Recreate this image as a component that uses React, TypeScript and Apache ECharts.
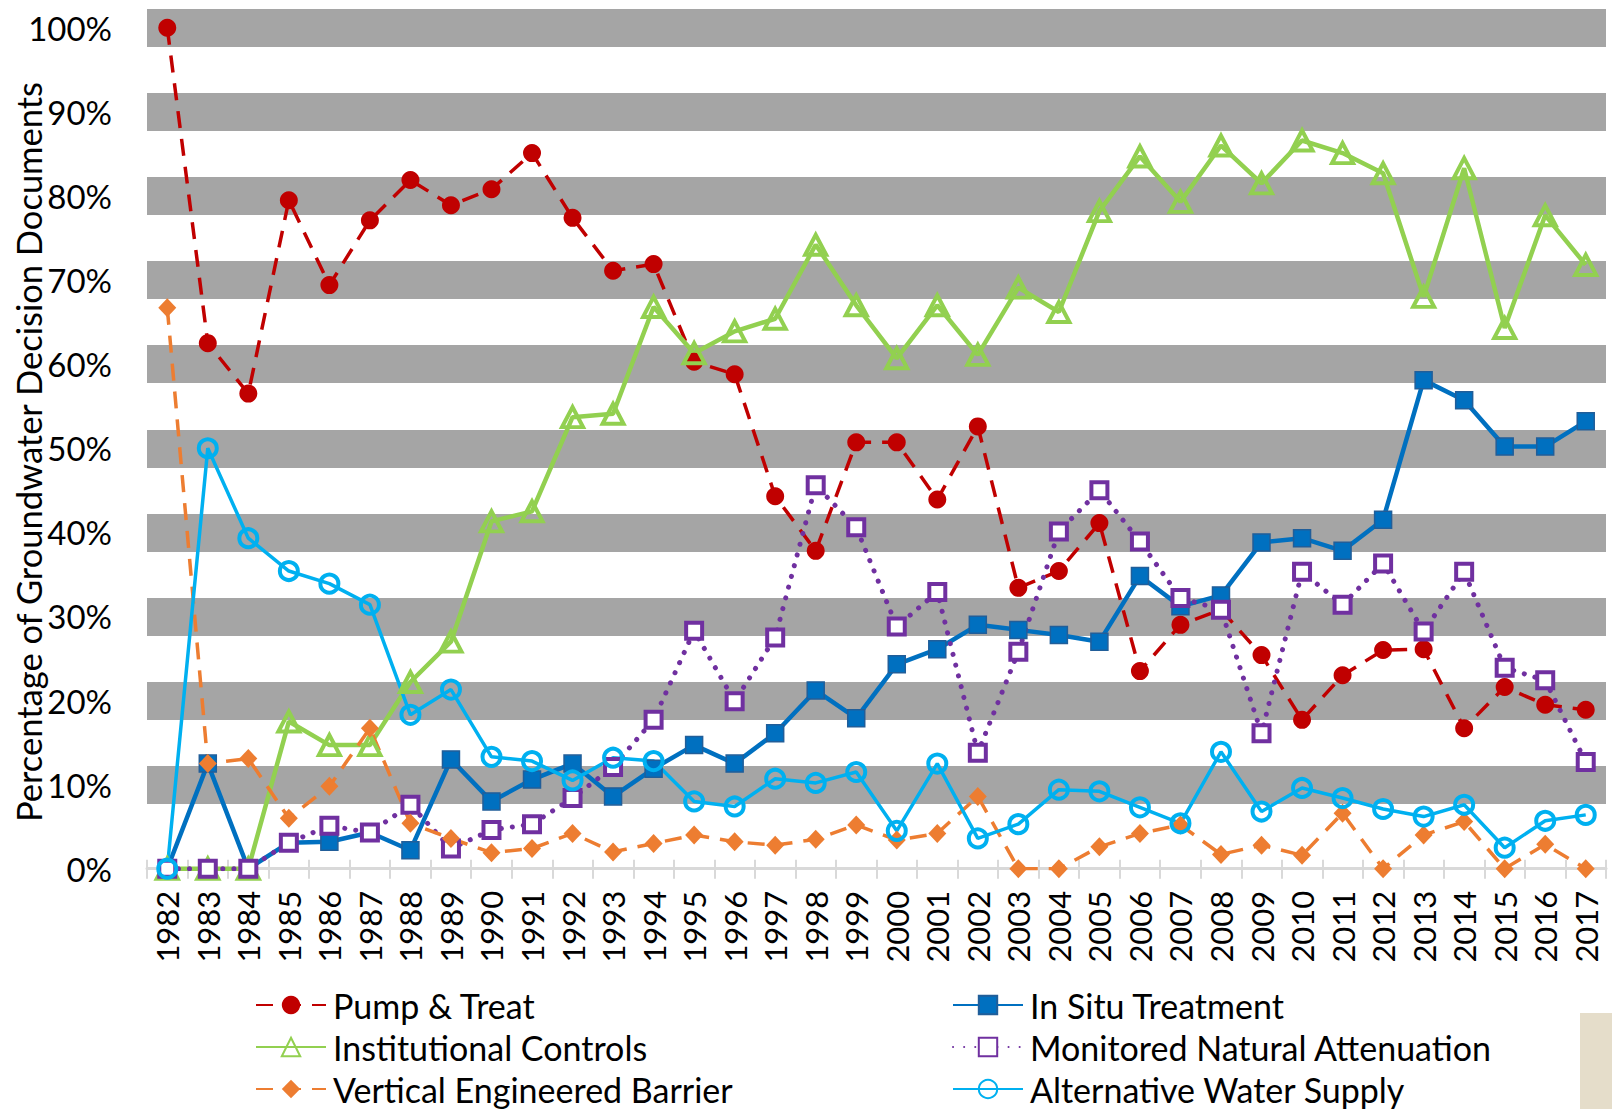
import React, { useEffect, useRef } from 'react';
import * as echarts from 'echarts';

const years = [
  '1982', '1983', '1984', '1985', '1986', '1987', '1988', '1989', '1990', '1991',
  '1992', '1993', '1994', '1995', '1996', '1997', '1998', '1999', '2000', '2001',
  '2002', '2003', '2004', '2005', '2006', '2007', '2008', '2009', '2010', '2011',
  '2012', '2013', '2014', '2015', '2016', '2017',
];

const pumpTreat = [
  100, 62.5, 56.5, 79.5, 69.4, 77.1, 81.9, 78.9, 80.8, 85.1,
  77.4, 71.1, 71.9, 60.3, 58.8, 44.3, 37.8, 50.7, 50.7, 43.9,
  52.6, 33.4, 35.4, 41.1, 23.5, 29.0, 30.8, 25.4, 17.7, 23.0,
  26.0, 26.1, 16.7, 21.6, 19.5, 18.9,
];

const inSitu = [
  0, 12.5, 0, 3.1, 3.2, 4.3, 2.2, 13.0, 8.0, 10.6,
  12.5, 8.6, 11.9, 14.7, 12.5, 16.1, 21.2, 17.9, 24.3, 26.1,
  29.0, 28.4, 27.8, 27.0, 34.8, 31.2, 32.5, 38.8, 39.3, 37.8,
  41.5, 58.1, 55.7, 50.2, 50.2, 53.2,
];

const institutional = [
  0, 0, 0, 17.5, 14.7, 14.7, 22.2, 27.0, 41.3, 42.5,
  53.7, 54.1, 66.8, 61.3, 63.9, 65.4, 74.2, 67.0, 60.7, 67.0,
  61.1, 69.1, 66.2, 78.2, 84.7, 79.3, 86.0, 81.5, 86.6, 85.1,
  82.7, 68.0, 83.3, 64.3, 77.7, 71.8,
];

const mna = [
  0, 0, 0, 3.1, 5.1, 4.3, 7.6, 2.4, 4.6, 5.3,
  8.4, 12.1, 17.7, 28.3, 19.9, 27.5, 45.6, 40.6, 28.8, 32.9,
  13.8, 25.8, 40.1, 45.0, 38.9, 32.2, 30.8, 16.1, 35.3, 31.4,
  36.3, 28.2, 35.3, 23.9, 22.4, 12.7,
];

const verticalBarrier = [
  66.7, 12.5, 13.1, 6.0, 9.8, 16.7, 5.4, 3.6, 1.9, 2.4,
  4.2, 2.0, 3.0, 4.0, 3.2, 2.8, 3.5, 5.2, 3.4, 4.2,
  8.6, 0, 0, 2.6, 4.2, 5.2, 1.7, 2.8, 1.6, 6.6,
  0, 4.0, 5.6, 0, 2.9, 0,
];

const altWater = [
  0, 50, 39.3, 35.4, 33.9, 31.4, 18.3, 21.3, 13.3, 12.8,
  10.5, 13.2, 12.8, 8.0, 7.4, 10.7, 10.2, 11.5, 4.5, 12.5,
  3.6, 5.3, 9.4, 9.2, 7.3, 5.4, 13.9, 6.8, 9.6, 8.4,
  7.1, 6.2, 7.6, 2.5, 5.7, 6.4,
];

const legendLeft = ['Pump & Treat', 'Institutional Controls', 'Vertical Engineered Barrier'];
const legendRight = ['In Situ Treatment', 'Monitored Natural Attenuation', 'Alternative Water Supply'];
const yTitle = 'Percentage of Groundwater Decision Documents';

const FONT = 'Lato';

export default function App() {
  const ref = useRef<HTMLDivElement>(null);

  useEffect(() => {
    document.body.style.margin = '0';
    document.body.style.overflow = 'hidden';
    const chart = echarts.init(ref.current as HTMLDivElement, null, { renderer: 'svg' });

    const legendBase = {
      orient: 'vertical',
      top: 987,
      height: 130,
      padding: 0,
      itemWidth: 70,
      itemHeight: 23,
      itemGap: 6,
      selectedMode: false,
      textStyle: { fontFamily: FONT, fontSize: 34, color: '#000', lineHeight: 36, padding: [0, 0, 0, 2] },
    };

    chart.setOption({
      animation: false,
      backgroundColor: '#fff',
      grid: { left: 147, right: 6, top: 27.8, bottom: 240.3, containLabel: false, outerBoundsMode: 'none' },
      legend: [
        { ...legendBase, left: 255, data: legendLeft },
        { ...legendBase, left: 952, data: legendRight },
      ],
      xAxis: [
        {
          type: 'category',
          data: years,
          boundaryGap: true,
          axisLine: { show: true, lineStyle: { color: '#D9D9D9', width: 3 } },
          axisTick: { show: true, interval: 0, length: 10, lineStyle: { color: '#D9D9D9', width: 2 } },
          axisLabel: { interval: 0, rotate: 90, fontFamily: FONT, fontSize: 31, color: '#000', margin: 22 },
          splitLine: { show: false },
        },
        {
          type: 'category',
          data: years,
          position: 'bottom',
          boundaryGap: true,
          axisLine: { show: false },
          axisTick: { show: true, inside: true, interval: 0, length: 9, lineStyle: { color: '#D9D9D9', width: 2 } },
          axisLabel: { show: false },
          splitLine: { show: false },
        },
      ],
      yAxis: {
        type: 'value',
        min: 0,
        max: 100,
        interval: 10,
        axisLine: { show: false },
        axisTick: { show: false },
        axisLabel: { formatter: '{value}%', fontFamily: FONT, fontSize: 33, color: '#000', margin: 35 },
        splitLine: { show: true, showMinLine: false, lineStyle: { color: '#A5A5A5', width: 38 } },
      },
      graphic: [
        {
          type: 'text',
          x: 28,
          y: 452,
          rotation: Math.PI / 2,
          style: {
            text: yTitle,
            fontFamily: FONT,
            fontSize: 34.5,
            fill: '#000',
            textAlign: 'center',
            textVerticalAlign: 'middle',
          },
        },
        { type: 'rect', shape: { x: 1580, y: 1013, width: 32, height: 96 }, style: { fill: '#E5DDCA' } },
      ],
      series: [
        {
          name: 'Pump & Treat',
          type: 'line',
          data: pumpTreat,
          symbol: 'circle',
          symbolSize: 18,
          showAllSymbol: true,
          lineStyle: { color: '#C00000', width: 3.5, type: [17, 11] },
          itemStyle: { color: '#C00000' },
        },
        {
          name: 'In Situ Treatment',
          type: 'line',
          data: inSitu,
          symbol: 'rect',
          symbolSize: 17,
          showAllSymbol: true,
          lineStyle: { color: '#0070C0', width: 4.5 },
          itemStyle: { color: '#0070C0', borderColor: '#215E99', borderWidth: 1.5 },
        },
        {
          name: 'Institutional Controls',
          type: 'line',
          data: institutional,
          symbol: 'triangle',
          symbolSize: [21, 20],
          showAllSymbol: true,
          lineStyle: { color: '#92D050', width: 4.5 },
          itemStyle: { color: 'rgba(0,0,0,0)', borderColor: '#92D050', borderWidth: 4 },
        },
        {
          name: 'Monitored Natural Attenuation',
          type: 'line',
          data: mna,
          symbol: 'rect',
          symbolSize: 16,
          showAllSymbol: true,
          lineStyle: { color: '#7030A0', width: 5, type: [0.1, 11], cap: 'round' },
          itemStyle: { color: '#ffffff', borderColor: '#7030A0', borderWidth: 4 },
        },
        {
          name: 'Vertical Engineered Barrier',
          type: 'line',
          data: verticalBarrier,
          symbol: 'diamond',
          symbolSize: [18, 19],
          showAllSymbol: true,
          lineStyle: { color: '#ED7D31', width: 3.5, type: [17, 11] },
          itemStyle: { color: '#ED7D31' },
        },
        {
          name: 'Alternative Water Supply',
          type: 'line',
          data: altWater,
          symbol: 'circle',
          symbolSize: 18,
          showAllSymbol: true,
          lineStyle: { color: '#00B0F0', width: 3.5 },
          itemStyle: { color: 'rgba(0,0,0,0)', borderColor: '#00B0F0', borderWidth: 4 },
        },
      ],
    });

    return () => chart.dispose();
  }, []);

  return <div ref={ref} style={{ width: 1612, height: 1109 }} />;
}
